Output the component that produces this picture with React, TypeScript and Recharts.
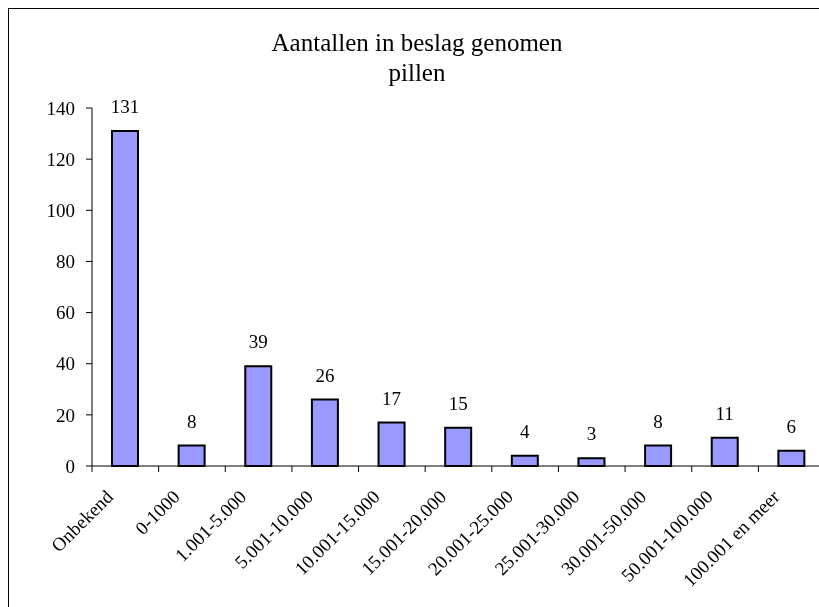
import { BarChart, Bar, XAxis, YAxis, LabelList } from 'recharts'

const categories = [
  'Onbekend',
  '0-1000',
  '1.001-5.000',
  '5.001-10.000',
  '10.001-15.000',
  '15.001-20.000',
  '20.001-25.000',
  '25.001-30.000',
  '30.001-50.000',
  '50.001-100.000',
  '100.001 en meer'
]
const counts = [131, 8, 39, 26, 17, 15, 4, 3, 8, 11, 6]
const yTicks = [0, 20, 40, 60, 80, 100, 120, 140]

const data = categories.map((name, i) => ({ name, value: counts[i] }))

const FONT = '"Liberation Serif", "Times New Roman", serif'
const CHART_W = 830
const CHART_H = 599
const MARGIN = { top: 100, right: 13, left: 0, bottom: 0 }
const Y_AXIS_W = 84
const PLOT_W = CHART_W - MARGIN.left - MARGIN.right - Y_AXIS_W
const BAND = PLOT_W / categories.length

// category tick: boundary tick marks plus a -45deg label
const CategoryTick = ({ x, y, payload, index }: any) => {
  const half = BAND / 2
  const last = index === categories.length - 1
  return (
    <g>
      <line x1={x - half} y1={y} x2={x - half} y2={y + 6} stroke="#000" />
      {last && <line x1={x + half} y1={y} x2={x + half} y2={y + 6} stroke="#000" />}
      <text
        x={x - 11}
        y={y + 32}
        transform={`rotate(-45, ${x - 11}, ${y + 32})`}
        textAnchor="end"
        fontSize={19}
        fontFamily={FONT}
        fill="#000"
      >
        {payload.value}
      </text>
    </g>
  )
}

export default function App() {
  return (
    <>
      <style>{'html, body { overflow: hidden; background: #fff; }'}</style>
      <div style={{ position: 'fixed', left: 8, top: 8, fontFamily: FONT }}>
        {/* frame: only left and top edges are visible in the crop */}
        <div style={{ position: 'absolute', left: 0, top: 0, width: 1, height: 620, background: '#000' }} />
        <div style={{ position: 'absolute', left: 0, top: 0, width: 830, height: 1, background: '#000' }} />
        <div
          style={{
            position: 'absolute',
            left: 0,
            top: 20,
            width: 818,
            textAlign: 'center',
            fontSize: 25,
            lineHeight: '30px',
            color: '#000'
          }}
        >
          Aantallen in beslag genomen
          <br />
          pillen
        </div>
        <BarChart width={CHART_W} height={CHART_H} data={data} margin={MARGIN}>
          <XAxis
            dataKey="name"
            interval={0}
            height={141}
            tickLine={false}
            tickSize={0}
            tickMargin={0}
            axisLine={{ stroke: '#000' }}
            tick={<CategoryTick />}
          />
          <YAxis
            width={Y_AXIS_W}
            domain={[0, 140]}
            ticks={yTicks}
            interval={0}
            tickSize={6}
            tickMargin={11}
            axisLine={{ stroke: '#000' }}
            tickLine={{ stroke: '#000' }}
            tick={{ fill: '#000', fontSize: 19, fontFamily: FONT }}
          />
          <Bar
            dataKey="value"
            fill="#9999FF"
            stroke="#000"
            strokeWidth={2}
            barSize={26}
            isAnimationActive={false}
          >
            <LabelList
              dataKey="value"
              position="top"
              offset={18}
              fill="#000"
              fontSize={19}
              fontFamily={FONT}
            />
          </Bar>
        </BarChart>
      </div>
    </>
  )
}
